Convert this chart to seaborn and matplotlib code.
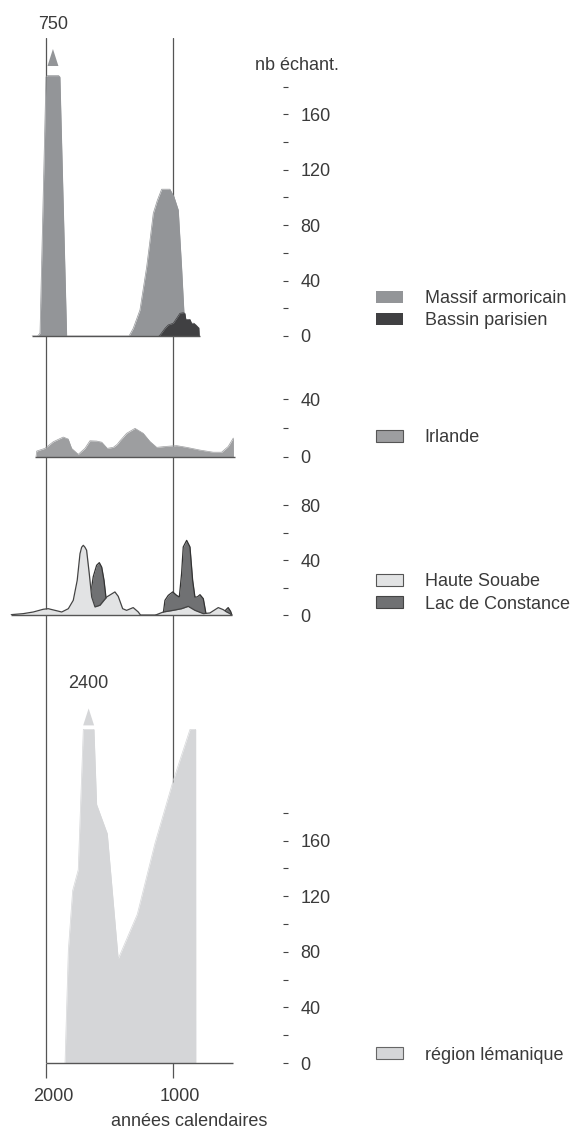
import matplotlib
matplotlib.use("Agg")
import pandas as pd
import matplotlib.pyplot as plt
import seaborn as sns
from matplotlib.patches import Patch
from matplotlib.transforms import ScaledTranslation

# valeurs : années av. J.-C. / nb d'échantillons
massif_annees = [2110, 2066, 2047, 2000, 1990, 1950, 1900, 1890, 1837, 1346, 1313, 1260, 1207,
                 1181, 1155, 1123, 1089, 1024, 992, 958, 932, 906, 898]
massif_nb = [0, 0, 2, 187, 188, 188, 188, 187, 0, 0, 5.5, 18.8, 50, 69, 88.6, 98, 106, 106,
             100.6, 91, 50, 4.3, 0]
massif_pic = "750"

bassin_annees = [1110, 1102, 1063, 1037, 998, 971, 945, 919, 906, 898, 866, 853, 835, 819, 801, 796, 793]
bassin_nb = [0, 0.7, 5.5, 8, 9.2, 12.8, 16.4, 16.8, 16.4, 12, 12, 9.2, 9.2, 8, 6.3, 6, 0]

irlande_annees = [2078, 2073, 2008, 1943, 1864, 1825, 1798, 1746, 1693, 1654, 1601, 1561, 1517,
                  1470, 1439, 1417, 1365, 1299, 1234, 1181, 1128, 1050, 971, 892, 787, 683, 617,
                  565, 525, 524]
irlande_nb = [0, 3.8, 5.7, 10.3, 13.6, 12.2, 5.7, 1.5, 5.7, 11, 10.8, 10, 5.7, 6.4, 8.5, 11, 16.2,
              19.7, 16.2, 10.5, 6.4, 7.1, 7.6, 6.4, 4.5, 3, 3, 7, 12.9, 0]

souabe_annees = [2276, 2270, 2179, 2100, 2021, 1982, 1929, 1876, 1824, 1785, 1754, 1732, 1719, 1706,
                 1693, 1680, 1659, 1640, 1614, 1575, 1522, 1457, 1431, 1396, 1365, 1313, 1273,
                 1254, 1142, 1076, 998, 932, 880, 827, 761, 709, 643, 604, 577, 551, 538]
souabe_nb = [0, 0.5, 1.2, 2.4, 4.4, 4.8, 3.6, 2.4, 4.8, 10.9, 25.4, 44.8, 49.5, 50.9, 49.5, 47.3,
             30.3, 13.3, 6.1, 7.3, 13.3, 17, 13.8, 4.8, 3.6, 5.6, 2.4, 0, 0, 2.4, 3.6, 4.8, 6.5,
             3.6, 1.2, 1.7, 5.6, 4.1, 2.4, 1.2, 0]

constance_annees = [1700, 1670, 1648, 1628, 1601, 1580, 1561, 1543, 1528, 1517, 1490, 1460, 1430,
                    1085, 1076, 1063, 1037, 1002, 971, 950, 932, 919, 892, 866, 845, 827, 809,
                    787, 761, 740, 735, 600, 583, 565, 546, 535]
constance_nb = [0, 6, 15, 28, 36.4, 38.3, 35, 25.5, 13.3, 9, 5, 2, 0, 0, 1.5, 10.9, 14.5, 17,
                14.5, 13.3, 30.3, 49.7, 54.5, 49.7, 25.5, 13.3, 13.3, 15, 12.1, 1.2, 0, 0, 4,
                5.6, 2.9, 0]

leman_annees = [1850, 1824, 1790, 1746, 1706, 1622, 1601, 1517, 1431, 1281, 1142, 1002, 866, 821, 820]
leman_nb = [0, 81, 124, 139, 240, 240, 186, 165, 75, 107, 158, 202, 240, 240, 0]
leman_pic = "2400"

sns.set_theme(style="white")
plt.rcParams["font.family"] = ["Liberation Sans", "DejaVu Sans"]
txt = "#3a3a3a"

W, H = 578, 1129
fig = plt.figure(figsize=(W / 100, H / 100), dpi=100)
XLIM = (2362, 94)
AXW = 288


def boite(bas, haut):
    return [0, 1 - bas / H, AXW / W, (bas - haut) / H]


# axe de fond : lignes verticales 2000 / 1000 et axe des x
fond = fig.add_axes(boite(1063, 38))
fond.set_xlim(XLIM)
fond.set_ylim(0, 1)
for a in [2000, 1000]:
    fond.axvline(a, color="#555555", lw=0.9)
sns.despine(ax=fond, left=True, bottom=True)
fond.set_yticks([])
fond.set_xticks([2000, 1000])
fond.tick_params(axis="x", bottom=True, length=11, width=0.9, color="#555555",
                 labelsize=13, labelcolor=txt, pad=7)
for lab in fond.get_xticklabels():
    lab.set_transform(lab.get_transform() + ScaledTranslation(7 / 100, 0, fig.dpi_scale_trans))


def panneau(bas, haut, ymax, majeurs, mineurs):
    ax = fig.add_axes(boite(bas, haut))
    ax.patch.set_alpha(0)
    ax.set_xlim(XLIM)
    ax.set_ylim(0, ymax)
    for s in ax.spines.values():
        s.set_visible(False)
    ax.set_xticks([])
    ax.yaxis.tick_right()
    ax.set_yticks(majeurs)
    ax.set_yticks(mineurs, minor=True)
    ax.tick_params(axis="y", which="both", right=True, left=False, direction="in",
                   length=3.6, width=0.8, color="#444444", labelsize=13,
                   labelcolor=txt, pad=9)
    return ax


def serie(ax, annees, nb, fond_c, trait_c, lw, z):
    ax.fill_between(annees, nb, color=fond_c, lw=0, zorder=z)
    df = pd.DataFrame({"annee": annees, "nb": nb})
    sns.lineplot(data=df, x="annee", y="nb", ax=ax, color=trait_c, lw=lw,
                 estimator=None, sort=False, zorder=z + 0.5)
    ax.set(xlabel="", ylabel="")


def base(ax, a0, a1):
    ax.hlines(0, a0, a1, color="#555555", lw=1, zorder=10, clip_on=False)


def pic(ax, a0, a1, haut, texte, coul, pxu, ecart):
    xc = (a0 + a1) / 2
    yb = haut + ecart / pxu
    ya = yb + 17 / pxu
    ax.fill([xc - 43, xc + 43, xc], [yb, yb, ya], color=coul, lw=0, clip_on=False)
    ax.text(xc, ya + 25 / pxu, texte, ha="center", va="center", fontsize=13,
            color=txt, clip_on=False)


def legende(ax, handles, y):
    ax.legend(handles=handles, loc="center left", bbox_to_anchor=(376 / W, 1 - y / H),
              bbox_transform=fig.transFigure, frameon=False, fontsize=13,
              handlelength=1.5, handleheight=0.65, handletextpad=1.2,
              labelspacing=0.28, borderpad=0, borderaxespad=0, labelcolor=txt)


# Massif armoricain / Bassin parisien
ax1 = panneau(336, 336 - 190 * 1.385, 190, [0, 40, 80, 120, 160], [20, 60, 100, 140, 180])
serie(ax1, massif_annees, massif_nb, "#939598", "#939598", 0.5, 1)
serie(ax1, bassin_annees, bassin_nb, "#404042", "#404042", 0.5, 3)
base(ax1, 2110, 787)
pic(ax1, 2000, 1890, 187, massif_pic, "#939598", 1.385, 11)
legende(ax1, [Patch(facecolor="#939598", edgecolor="none", label="Massif armoricain"),
              Patch(facecolor="#404042", edgecolor="none", label="Bassin parisien")], 309.5)

# Irlande
ax2 = panneau(456.5, 456.5 - 40 * 1.43, 40, [0, 40], [20])
serie(ax2, irlande_annees, irlande_nb, "#9d9ea0", "#9d9ea0", 0.5, 1)
base(ax2, 2087, 512)
legende(ax2, [Patch(facecolor="#9d9ea0", edgecolor="#555555", lw=0.8, label="Irlande")], 438)

# Haute Souabe / Lac de Constance
ax3 = panneau(615.3, 615.3 - 80 * 1.375, 80, [0, 40, 80], [20, 60])
serie(ax3, constance_annees, constance_nb, "#707173", "#333333", 0.9, 1)
serie(ax3, souabe_annees, souabe_nb, "#e2e3e4", "#444444", 0.9, 3)
base(ax3, 2276, 535)
legende(ax3, [Patch(facecolor="#e2e3e4", edgecolor="#555555", lw=0.8, label="Haute Souabe"),
              Patch(facecolor="#707173", edgecolor="#444444", lw=0.8, label="Lac de Constance")], 593)

# région lémanique
ax4 = panneau(1063, 1063 - 245 * 1.39, 245, [0, 40, 80, 120, 160], [20, 60, 100, 140, 180])
serie(ax4, leman_annees, leman_nb, "#d5d6d8", "#d5d6d8", 0.5, 1)
base(ax4, 2000, 528)
pic(ax4, 1706, 1622, 240, leman_pic, "#d5d6d8", 1.39, 4)
legende(ax4, [Patch(facecolor="#d5d6d8", edgecolor="#666666", lw=0.8, label="région lémanique")], 1055)

fig.text(255 / W, 1 - 65 / H, "nb échant.", ha="left", va="center", fontsize=13, color=txt)
fig.text(189 / W, 1 - 1121 / H, "années calendaires", ha="center", va="center", fontsize=13, color=txt)

fig.savefig("out.png", dpi=100)
